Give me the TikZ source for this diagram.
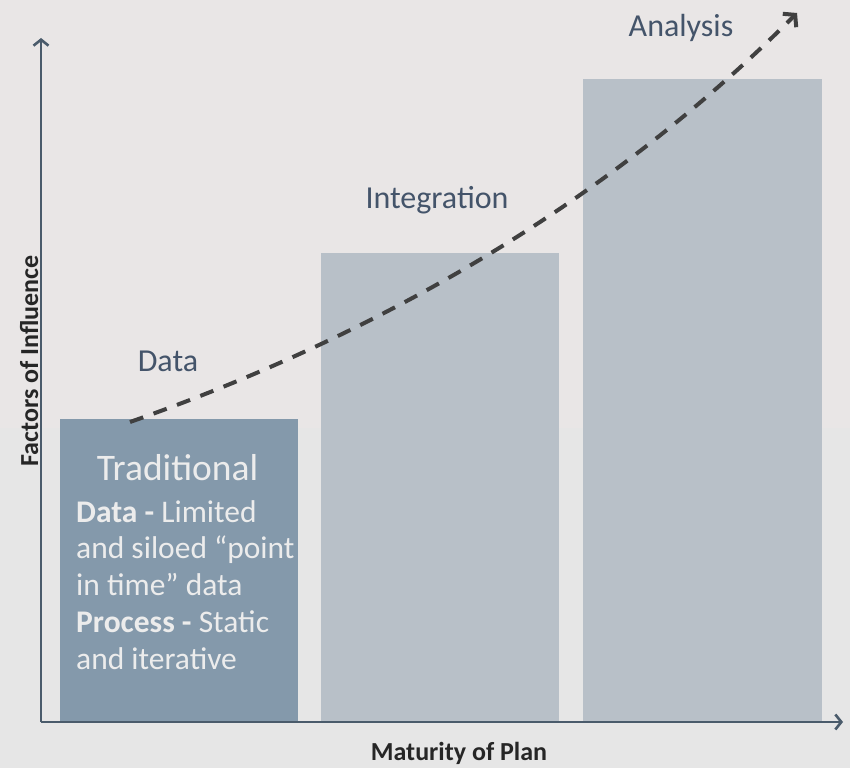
\documentclass[tikz,border=0pt]{standalone}
\usepackage{fontspec}
\setmainfont{Carlito}
\usetikzlibrary{arrows.meta}
\definecolor{bgtop}{HTML}{E9E6E6}
\definecolor{bgbot}{HTML}{E6E6E6}
\definecolor{barA}{HTML}{8499AB}
\definecolor{barB}{HTML}{B8C0C8}
\definecolor{axisc}{HTML}{4A5B6B}
\definecolor{labelc}{HTML}{44546A}
\definecolor{curvec}{HTML}{404040}
\definecolor{bartext}{HTML}{ECECEC}
\tikzset{
  bar/.style={draw=none, inner sep=0pt, anchor=south west},
  axisline/.style={draw=axisc, line width=2.6pt, -{Straight Barb[length=6pt,width=15pt,line width=2.6pt]}},
  curveline/.style={draw=curvec, line width=4pt, dash pattern=on 14pt off 11pt,
     -{Straight Barb[length=8pt,width=19pt,line width=4pt]}},
  stagelabel/.style={text=labelc, font=\fontsize{32}{36}\selectfont, anchor=base, inner sep=0pt},
  axislabel/.style={text=black!85, font=\bfseries\fontsize{26}{30}\selectfont, inner sep=0pt},
}
\begin{document}
\begin{tikzpicture}[x=1pt,y=-1pt]
\useasboundingbox (0,0) rectangle (850,768);
\fill[bgtop] (0,0) rectangle (850,428);
\fill[bgbot] (0,428) rectangle (850,768);
% bars
\node[bar, fill=barA, minimum width=238pt, minimum height=303pt] (b1) at (60,722) {};
\node[bar, fill=barB, minimum width=238pt, minimum height=469pt] (b2) at (321,722) {};
\node[bar, fill=barB, minimum width=239pt, minimum height=643pt] (b3) at (583,722) {};
% axes
\coordinate (o) at (41,722);
\coordinate (ytop) at (41,38);
\coordinate (xend) at (843,722);
\draw[axisline] (o) -- (ytop);
\draw[axisline] (o) -- (xend);
% axis labels
\node[axislabel, anchor=base] (xl) at (459,760) {Maturity of Plan};
\node[axislabel, rotate=90, anchor=base] (yl) at (38,361) {Factors of Influence};
% stage labels
\node[stagelabel] (ldata) at (168,371) {Data};
\node[stagelabel] (lint) at (437,208) {Integration};
\node[stagelabel] (lana) at (681,37) {Analysis};
% text in first bar
\node[text=bartext, font=\fontsize{37.5}{40}\selectfont, anchor=base, inner sep=0pt] (trad) at (177.5,480) {Traditional};
\node[text=bartext, font=\fontsize{31.5}{36.8}\selectfont, anchor=north west, align=left, inner sep=0pt] (body) at (76,500)
 {\textbf{Data -} Limited\\and siloed “point\\in time” data\\\textbf{Process -} Static\\and iterative};
% curve
\coordinate (cs) at (130,422);
\coordinate (ce) at (797,13);
\draw[curveline] (cs) .. controls (395,329) and (617,193) .. (ce);
\end{tikzpicture}
\end{document}
